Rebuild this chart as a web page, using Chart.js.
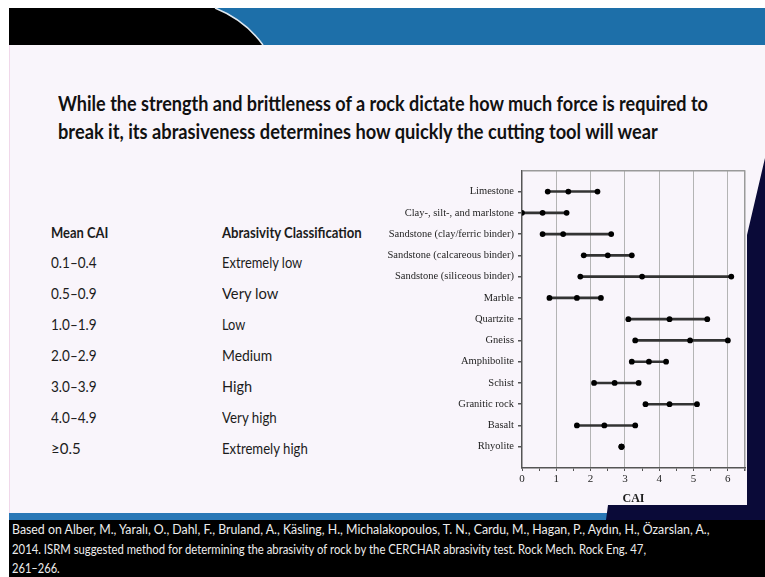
<!DOCTYPE html>
<html>
<head>
<meta charset="utf-8">
<script src="https://cdn.jsdelivr.net/npm/chart.js@4/dist/chart.umd.min.js"></script>
<style>
  html,body{margin:0;padding:0;}
  body{width:765px;height:577px;position:relative;overflow:hidden;background:#ffffff;}
  #slide{position:absolute;left:9px;top:8px;width:756px;height:569px;background:#f9f5fb;border-left:1px solid #f0d8ea;}
  .t{position:absolute;white-space:nowrap;display:inline-block;transform-origin:0 50%;}
  .title{font-family:Lato,"Open Sans",sans-serif;font-weight:700;font-size:20px;line-height:24px;color:#111;}
  .th{font-family:Lato,"Open Sans",sans-serif;font-weight:700;font-size:15px;line-height:18px;color:#1c1c1c;}
  .td{font-family:Lato,"Open Sans",sans-serif;font-weight:400;font-size:15px;line-height:18px;color:#1c1c1c;}
  .ft{font-family:Lato,"Open Sans",sans-serif;font-weight:400;font-size:12.5px;line-height:16px;color:#ededed;}
  #chart{position:absolute;left:380px;top:160px;}
  svg{position:absolute;left:0;top:0;}
</style>
</head>
<body>
<div id="slide"></div>
<svg width="765" height="577">
  <rect x="9" y="8" width="756" height="37" fill="#1d6fa9"/>
  <path d="M9,8 L215,8 Q245,20 263,45 L9,45 Z" fill="#000"/>
  <path d="M215,8 Q245,20 263,45" stroke="#dfe8f0" stroke-width="1.5" fill="none"/>
  <rect x="9" y="513" width="756" height="8" fill="#2a78b6"/>
  <rect x="9" y="520" width="756" height="57" fill="#000"/>
  <polygon points="765,158 747,235 747,505 608,505 606,520 765,520" fill="#0a0a38"/>
</svg>

<div class="t title" data-w="650" data-cy="103" style="left:58px;">While the strength and brittleness of a rock dictate how much force is required to</div>
<div class="t title" data-w="600" data-cy="131" style="left:58px;">break it, its abrasiveness determines how quickly the cutting tool will wear</div>

<div class="t th" data-w="57" data-cy="232" style="left:51px;">Mean CAI</div>
<div class="t th" data-w="140" data-cy="232" style="left:222px;">Abrasivity Classification</div>
<div id="rows"></div>

<div class="t ft" data-w="698" data-cy="530" style="left:12px;">Based on Alber, M., Yaralı, O., Dahl, F., Bruland, A., Käsling, H., Michalakopoulos, T. N., Cardu, M., Hagan, P., Aydın, H., Özarslan, A.,</div>
<div class="t ft" data-w="634" data-cy="550" style="left:12px;">2014. ISRM suggested method for determining the abrasivity of rock by the CERCHAR abrasivity test. Rock Mech. Rock Eng. 47,</div>
<div class="t ft" data-w="48" data-cy="569" style="left:12px;">261–266.</div>

<canvas id="chart" width="375" height="350"></canvas>

<script>
// ---- Table data ----
const caiRanges = ["0.1–0.4","0.5–0.9","1.0–1.9","2.0–2.9","3.0–3.9","4.0–4.9","≥0.5"];
const classes = ["Extremely low","Very low","Low","Medium","High","Very high","Extremely high"];
const classWidths = [80,56,23,50,30,55,86];
const rangeWidths = [46,46,46,46,46,46,30];

// ---- Chart data (CAI) ----
const rocks = ["Limestone","Clay-, silt-, and marlstone","Sandstone (clay/ferric binder)","Sandstone (calcareous binder)","Sandstone (siliceous binder)","Marble","Quartzite","Gneiss","Amphibolite","Schist","Granitic rock","Basalt","Rhyolite"];
const caiMin  = [0.75, 0.0, 0.6, 1.8, 1.7, 0.8, 3.1, 3.3, 3.2, 2.1, 3.6, 1.6, 2.9];
const caiMean = [1.35, 0.6, 1.2, 2.5, 3.5, 1.6, 4.3, 4.9, 3.7, 2.7, 4.3, 2.4, 2.9];
const caiMax  = [2.2, 1.3, 2.6, 3.2, 6.1, 2.3, 5.4, 6.0, 4.2, 3.4, 5.1, 3.3, 2.9];
const xTickLabels = ["0","1","2","3","4","5","6"];

// build table rows
const rowsEl = document.getElementById('rows');
caiRanges.forEach((r,i)=>{
  const cy = 262 + i*31;
  const a = document.createElement('div');
  a.className='t td'; a.textContent=r; a.style.left='51px';
  a.dataset.w = rangeWidths[i]; a.dataset.cy = cy;
  const b = document.createElement('div');
  b.className='t td'; b.textContent=classes[i]; b.style.left='222px';
  b.dataset.w = classWidths[i]; b.dataset.cy = cy;
  rowsEl.appendChild(a); rowsEl.appendChild(b);
});

function fitTexts(){
  document.querySelectorAll('[data-w]').forEach(el=>{
    el.style.transform = 'none';
    const lh = parseFloat(getComputedStyle(el).lineHeight);
    el.style.top = (parseFloat(el.dataset.cy) - lh/2) + 'px';
    const w = el.offsetWidth;
    if (w>0) el.style.transform = 'scaleX(' + (parseFloat(el.dataset.w)/w) + ')';
  });
}
fitTexts();
if (document.fonts && document.fonts.ready) document.fonts.ready.then(fitTexts);

// ---- Chart ----
const datasets = rocks.map((name,i)=>({
  label: name,
  data: [{x:caiMin[i],y:i+1},{x:caiMean[i],y:i+1},{x:caiMax[i],y:i+1}],
  showLine: true,
  borderColor: '#333333',
  borderWidth: 2.6,
  pointBackgroundColor: '#000',
  pointBorderColor: '#000',
  pointRadius: 2.9,
  pointBorderWidth: 0
}));

const serif = "'Liberation Serif','Times New Roman',serif";
const isInt = v => Math.abs(v - Math.round(v)) < 1e-9;

new Chart(document.getElementById('chart'), {
  type: 'scatter',
  data: { datasets },
  options: {
    responsive: false,
    devicePixelRatio: 1,
    animation: false,
    layout: { padding: { top: 8, right: 10, left: 0, bottom: 0 } },
    plugins: { legend: { display: false }, tooltip: { enabled: false } },
    scales: {
      x: {
        type: 'linear', min: 0, max: 6.5,
        afterFit: a => { a.height = 42; },
        ticks: {
          stepSize: 0.5, autoSkip: false, includeBounds: false, maxRotation: 0,
          padding: 2, color: '#1e1e1e', font: { family: serif, size: 11 },
          callback: v => (isInt(v) && v <= 6) ? xTickLabels[Math.round(v)] : ''
        },
        grid: {
          drawOnChartArea: true,
          color: c => { const v = c.tick ? c.tick.value : null;
            if (v === 6.5) return '#9a9a9a';
            return (v !== null && isInt(v) && v > 0) ? '#b4b4b4' : 'rgba(0,0,0,0)'; },
          lineWidth: c => (c.tick && c.tick.value === 6.5) ? 1.5 : 1,
          tickColor: '#555', tickLength: 3
        },
        border: { display: true, color: '#555', width: 1.5 },
        title: { display: true, text: 'CAI', color: '#1e1e1e', font: { family: serif, size: 12, weight: 'bold' }, padding: { top: 0, bottom: 4 } }
      },
      y: {
        type: 'linear', min: 0, max: 14, reverse: true,
        afterFit: a => { a.width = 142; },
        ticks: {
          stepSize: 1, autoSkip: false, padding: 4, color: '#1e1e1e',
          font: { family: serif, size: 10.5 },
          callback: v => (isInt(v) && v >= 1 && v <= rocks.length) ? rocks[Math.round(v)-1] : ''
        },
        grid: {
          drawOnChartArea: true,
          color: c => (c.tick && c.tick.value === 0) ? '#9a9a9a' : 'rgba(0,0,0,0)',
          lineWidth: 1.5,
          tickColor: c => (c.tick && c.tick.value >= 1 && c.tick.value <= rocks.length) ? '#555' : 'rgba(0,0,0,0)',
          tickLength: 4
        },
        border: { display: true, color: '#555', width: 1.5 }
      }
    }
  }
});
</script>
</body>
</html>
